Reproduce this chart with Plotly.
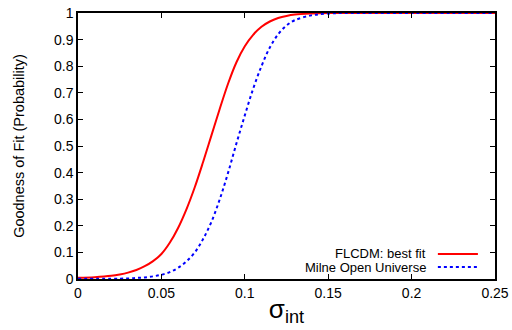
import plotly.graph_objects as go

sigma_red = [0.0, 0.01, 0.02, 0.025, 0.03, 0.035, 0.04, 0.045, 0.05, 0.055, 0.06, 0.065, 0.07, 0.075,
             0.08, 0.085, 0.09, 0.095, 0.1, 0.105, 0.11, 0.115, 0.12, 0.125, 0.13, 0.14, 0.15, 0.2, 0.25]
prob_red = [0.005, 0.007, 0.012, 0.017, 0.024, 0.034, 0.048, 0.067, 0.094, 0.136, 0.192, 0.262, 0.345,
            0.44, 0.54, 0.64, 0.735, 0.815, 0.875, 0.918, 0.948, 0.968, 0.981, 0.989, 0.994, 0.998,
            1.0, 1.0, 1.0]

sigma_blue = [0.0, 0.02, 0.03, 0.035, 0.04, 0.045, 0.05, 0.055, 0.06, 0.065, 0.07, 0.075, 0.08, 0.085,
              0.09, 0.095, 0.1, 0.105, 0.11, 0.115, 0.12, 0.125, 0.13, 0.14, 0.15, 0.16, 0.2, 0.25]
prob_blue = [0.001, 0.001, 0.002, 0.004, 0.006, 0.01, 0.016, 0.026, 0.042, 0.066, 0.1, 0.15, 0.215,
             0.3, 0.4, 0.51, 0.615, 0.715, 0.8, 0.87, 0.92, 0.953, 0.973, 0.991, 0.998, 1.0, 1.0, 1.0]

series_names = ["FLCDM: best fit", "Milne Open Universe"]
x_ticks = [0, 0.05, 0.1, 0.15, 0.2, 0.25]
y_ticks = [0, 0.1, 0.2, 0.3, 0.4, 0.5, 0.6, 0.7, 0.8, 0.9, 1]

fig = go.Figure()
fig.add_trace(go.Scatter(x=sigma_red, y=prob_red, mode="lines", name=series_names[0],
                         line=dict(color="#ff0000", width=2, shape="spline", smoothing=1.0),
                         showlegend=False))
fig.add_trace(go.Scatter(x=sigma_blue, y=prob_blue, mode="lines", name=series_names[1],
                         line=dict(color="#0000ff", width=2, dash="dot", shape="spline", smoothing=1.0),
                         showlegend=False))

font_family = "Liberation Sans, Arial, Helvetica, sans-serif"
axis_common = dict(showline=True, linecolor="black", linewidth=1.5, mirror="ticks",
                   ticks="inside", ticklen=5, tickcolor="black", tickwidth=1, automargin=False,
                   ticklabeloverflow="allow",
                   showgrid=False, zeroline=False, tickfont=dict(size=14, color="black", family=font_family))

fig.update_xaxes(range=[0, 0.25], tickvals=x_ticks, ticktext=[f"{v:g}" for v in x_ticks],
                 title=dict(text="σ<sub>int</sub>", font=dict(size=26, color="black", family=font_family), standoff=0),
                 **axis_common)
fig.update_yaxes(range=[0, 1], tickvals=y_ticks, ticktext=[f"{v:g}" for v in y_ticks],
                 title=dict(text="Goodness of Fit (Probability)", font=dict(size=14.5, color="black", family=font_family), standoff=26),
                 **axis_common)

# gnuplot-style legend: text right-aligned, line sample to the right
legend_y = [0.094, 0.045]
styles = [dict(color="#ff0000", width=2), dict(color="#0000ff", width=2, dash="dot")]
for name, yy, st in zip(series_names, legend_y, styles):
    fig.add_annotation(x=0.839, y=yy, xref="paper", yref="paper", text=name, showarrow=False,
                       xanchor="right", yanchor="middle", font=dict(size=13, color="black", family=font_family))
    fig.add_shape(type="line", xref="paper", yref="paper", x0=0.863, x1=0.959, y0=yy, y1=yy, line=st)

fig.update_layout(width=512, height=330, margin=dict(l=78, r=17, t=13, b=51),
                  paper_bgcolor="white", plot_bgcolor="white",
                  font=dict(family=font_family, color="black"))

fig.write_html("out.html", config={"displayModeBar": False},
               post_script="document.body.style.margin='0';document.body.style.overflow='hidden';")
